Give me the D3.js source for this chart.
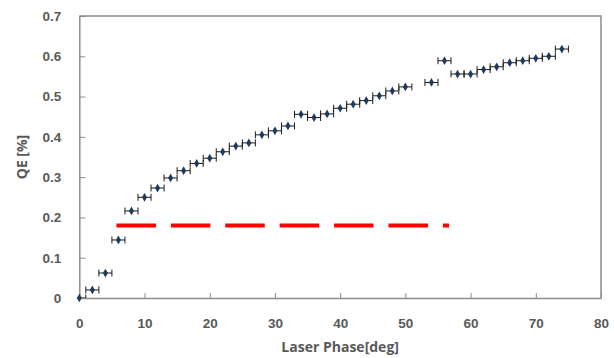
<!DOCTYPE html>
<html>
<head>
<meta charset="utf-8">
<script src="https://cdn.jsdelivr.net/npm/d3@7"></script>
<style>
  html, body { margin: 0; padding: 0; background: #fff; }
  svg { display: block; font-family: "Open Sans", "Liberation Sans", sans-serif; }
</style>
</head>
<body>
<div id="wrapper"></div>
<script>
// Data
const phase = [0, 2, 4, 6, 8, 10, 12, 14, 16, 18, 20, 22, 24, 26, 28, 30, 32, 34, 36, 38, 40,
  42, 44, 46, 48, 50, 54, 56, 58, 60, 62, 64, 66, 68, 70, 72, 74];
const qe = [0, 0.02, 0.062, 0.144, 0.216, 0.25, 0.273, 0.298, 0.316, 0.334, 0.347, 0.363,
  0.377, 0.385, 0.405, 0.415, 0.427, 0.456, 0.448, 0.457, 0.471, 0.481, 0.49, 0.502,
  0.514, 0.524, 0.535, 0.589, 0.556, 0.556, 0.567, 0.574, 0.584, 0.589, 0.595, 0.6, 0.618];
const phaseError = 1;
const thresholdX = [5.7, 56.7];
const thresholdQE = 0.18;
const xTicks = [0, 10, 20, 30, 40, 50, 60, 70, 80];
const yTicks = [0, 0.1, 0.2, 0.3, 0.4, 0.5, 0.6, 0.7];

const dataset = phase.map((p, i) => ({ x: p, y: qe[i] }));

// Dimensions
const width = 614;
const height = 358;
const plot = { left: 79.3, right: 601, top: 16, bottom: 298 };

const svg = d3.select("#wrapper")
  .append("svg")
  .attr("width", width)
  .attr("height", height);

// Scales
const xScale = d3.scaleLinear().domain([0, 80]).range([plot.left, plot.right]);
const yScale = d3.scaleLinear().domain([0, 0.7]).range([plot.bottom, plot.top]);

const axisColor = "#8c8c8c";
const labelColor = "#595959";

// Frame (top + right)
svg.append("path")
  .attr("d", `M${plot.left},${plot.top}H${plot.right}V${plot.bottom}`)
  .attr("fill", "none")
  .attr("stroke", axisColor)
  .attr("stroke-width", 1.5);

// Axes
const yAxis = svg.append("g")
  .attr("transform", `translate(${plot.left},0)`)
  .call(d3.axisLeft(yScale)
    .tickValues(yTicks)
    .tickSizeInner(-6)
    .tickSizeOuter(0)
    .tickPadding(18)
    .tickFormat(d => d === 0 ? "0" : d3.format(".1f")(d)));

const xAxis = svg.append("g")
  .attr("transform", `translate(0,${plot.bottom})`)
  .call(d3.axisBottom(xScale)
    .tickValues(xTicks)
    .tickSizeInner(-5)
    .tickSizeOuter(0)
    .tickPadding(20));

[xAxis, yAxis].forEach(a => {
  a.select(".domain").attr("stroke", axisColor).attr("stroke-width", 1.5);
  a.selectAll(".tick line").attr("stroke", axisColor).attr("stroke-width", 1);
  a.selectAll(".tick text")
    .attr("fill", labelColor)
    .style("font-size", "13.5px")
    .style("font-weight", "bold");
});

// Axis titles
svg.append("text")
  .attr("x", (plot.left + plot.right) / 2)
  .attr("y", 352)
  .attr("text-anchor", "middle")
  .attr("fill", labelColor)
  .style("font-size", "14px")
  .style("font-weight", "bold")
  .text("Laser Phase[deg]");

svg.append("text")
  .attr("transform", `translate(27,${(plot.top + plot.bottom) / 2}) rotate(-90)`)
  .attr("text-anchor", "middle")
  .attr("fill", labelColor)
  .style("font-size", "14px")
  .style("font-weight", "bold")
  .text("QE [%]");

// Threshold line
svg.append("line")
  .attr("x1", xScale(thresholdX[0]))
  .attr("x2", xScale(thresholdX[1]))
  .attr("y1", yScale(thresholdQE))
  .attr("y2", yScale(thresholdQE))
  .attr("stroke", "#ff0000")
  .attr("stroke-width", 4)
  .style("stroke-dasharray", "39.5 14.9");

// Error bars
svg.append("clipPath").attr("id", "plotClip")
  .append("rect")
  .attr("x", plot.left)
  .attr("y", plot.top)
  .attr("width", plot.right - plot.left)
  .attr("height", plot.bottom - plot.top);

const errGroup = svg.append("g").attr("clip-path", "url(#plotClip)");
const capH = 3.5;
errGroup.selectAll("path")
  .data(dataset)
  .join("path")
  .attr("d", d => {
    const x0 = xScale(d.x - phaseError);
    const x1 = xScale(d.x + phaseError);
    const y = yScale(d.y);
    return `M${x0},${y - capH}V${y + capH}M${x0},${y}H${x1}M${x1},${y - capH}V${y + capH}`;
  })
  .attr("fill", "none")
  .attr("stroke", "#1a1a1a")
  .attr("stroke-width", 1);

// Markers
svg.append("g")
  .selectAll("path")
  .data(dataset)
  .join("path")
  .attr("transform", d => `translate(${xScale(d.x)},${yScale(d.y)})`)
  .attr("d", d3.symbol(d3.symbolDiamond, 22))
  .attr("fill", "#1f3a5f");
</script>
</body>
</html>
